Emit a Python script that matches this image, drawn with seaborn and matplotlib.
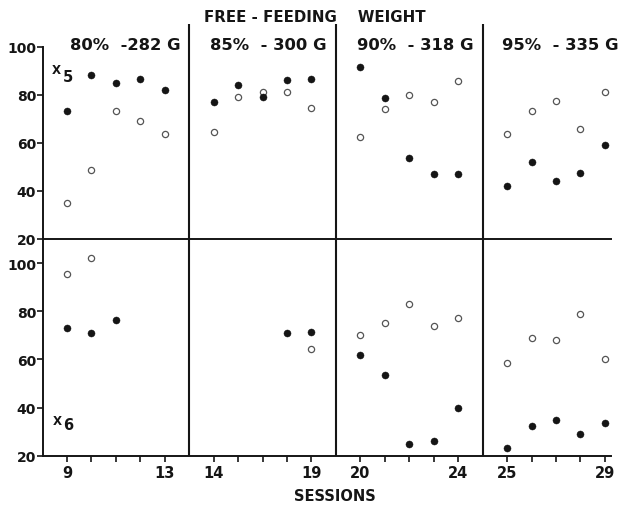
import numpy as np
import pandas as pd
import matplotlib
matplotlib.use("Agg")
import matplotlib.pyplot as plt
import seaborn as sns

nan = np.nan

# Food-deprivation conditions and the session numbers at the ends of each block
conditions = ["80%  -282 G", "85%  - 300 G", "90%  - 318 G", "95%  - 335 G"]
block_first = [9, 14, 20, 25]
block_last = [13, 19, 24, 29]

# Five sessions per block, four blocks (filled = one response measure, open = the other)
x5_filled = [73, 88, 85, 86.5, 82,
             77, 84, 79, 86, 86.5,
             91.5, 78.5, 53.5, 47, 47,
             42, 52, 44, 47.5, 59]
x5_open = [35, 48.5, 73, 69, 63.5,
           64.5, 79, 81, 81, 74.5,
           62.5, 74, 80, 77, 85.5,
           63.5, 73, 77.5, 65.5, 81]
x6_filled = [73, 71, 76.5, nan, nan,
             nan, nan, nan, 71, 71.5,
             62, 53.5, 25, 26, 40,
             23, 32.5, 35, 29, 33.5]
x6_open = [95.5, 102, nan, nan, nan,
           nan, nan, nan, nan, 64.5,
           70, 75, 83, 74, 77,
           58.5, 69, 68, 79, 60]

# Position on the x axis: blocks separated by a one-session gap
pos = [6 * b + i for b in range(4) for i in range(5)]

frames = []
for panel, filled, opened in [("x5", x5_filled, x5_open), ("x6", x6_filled, x6_open)]:
    frames.append(pd.DataFrame({"pos": pos, "value": filled, "kind": "filled", "panel": panel}))
    frames.append(pd.DataFrame({"pos": pos, "value": opened, "kind": "open", "panel": panel}))
df = pd.concat(frames, ignore_index=True).dropna()

sns.set_theme(style="white")
plt.rcParams["font.family"] = ["DejaVu Sans"]
plt.rcParams["font.weight"] = "bold"
ink = "#151515"

W, H = 625, 506
fig = plt.figure(figsize=(W / 100, H / 100), dpi=100)


def rect(x0, y0, x1, y1):
    return [x0 / W, 1 - y1 / H, (x1 - x0) / W, (y1 - y0) / H]


ax_top = fig.add_axes(rect(43, 25, 611, 239.5))
ax_bot = fig.add_axes(rect(43, 239.5, 611, 456.7))

for ax, panel in [(ax_top, "x5"), (ax_bot, "x6")]:
    d = df[df["panel"] == panel]
    sns.scatterplot(data=d[d["kind"] == "open"], x="pos", y="value", ax=ax,
                    marker="o", s=20, color="white", edgecolor="#555555",
                    linewidth=0.9, legend=False, zorder=3)
    sns.scatterplot(data=d[d["kind"] == "filled"], x="pos", y="value", ax=ax,
                    marker="o", s=26, color=ink, edgecolor=ink,
                    linewidth=0.3, legend=False, zorder=4)
    ax.set_xlim(-0.98, 22.25)
    ax.set_xlabel("")
    ax.set_ylabel("")
    ax.set_yticks([20, 40, 60, 80, 100])
    ax.set_yticklabels(["20", "40", "60", "80", "100"])
    for s in ["top", "right"]:
        ax.spines[s].set_visible(False)
    for s in ["left", "bottom"]:
        ax.spines[s].set_color(ink)
        ax.spines[s].set_linewidth(1.4)
    ax.tick_params(axis="y", direction="out", length=4, width=1.2, color=ink,
                   labelsize=10, pad=1, labelcolor=ink, left=True)
    for xv in [5, 11, 17]:
        ax.axvline(xv, color=ink, lw=1.5, zorder=2)
    ax.set_facecolor("none")

ax_top.set_ylim(20, 109.4)
ax_top.spines["left"].set_bounds(20, 100)
ax_top.set_xticks([])

ax_bot.set_ylim(20, 110.2)
tick_labels = []
for b in range(4):
    tick_labels += [str(block_first[b]), "", "", "", str(block_last[b])]
ax_bot.set_xticks(pos)
ax_bot.set_xticklabels(tick_labels)
ax_bot.tick_params(axis="x", direction="out", length=4, width=1.2, color=ink,
                   labelsize=10.5, pad=3, labelcolor=ink, bottom=True)


def ftext(x, y, s, **kw):
    fig.text(x / W, 1 - y / H, s, color=ink, fontweight="bold", **kw)


ftext(315, 17, "FREE - FEEDING    WEIGHT", ha="center", va="center", fontsize=10.8)
for x0, lab in zip([70, 210, 357, 502], conditions):
    ftext(x0, 46, lab, ha="left", va="center", fontsize=11.8)

ftext(52, 71, "X", ha="left", va="center", fontsize=8.5)
ftext(63, 78, "5", ha="left", va="center", fontsize=10.5)
ftext(53, 422, "X", ha="left", va="center", fontsize=8.5)
ftext(63, 425, "6", ha="left", va="center", fontsize=10.5)

ftext(335, 497, "SESSIONS", ha="center", va="center", fontsize=10.5)

fig.savefig("out.png", dpi=100, facecolor="white")
